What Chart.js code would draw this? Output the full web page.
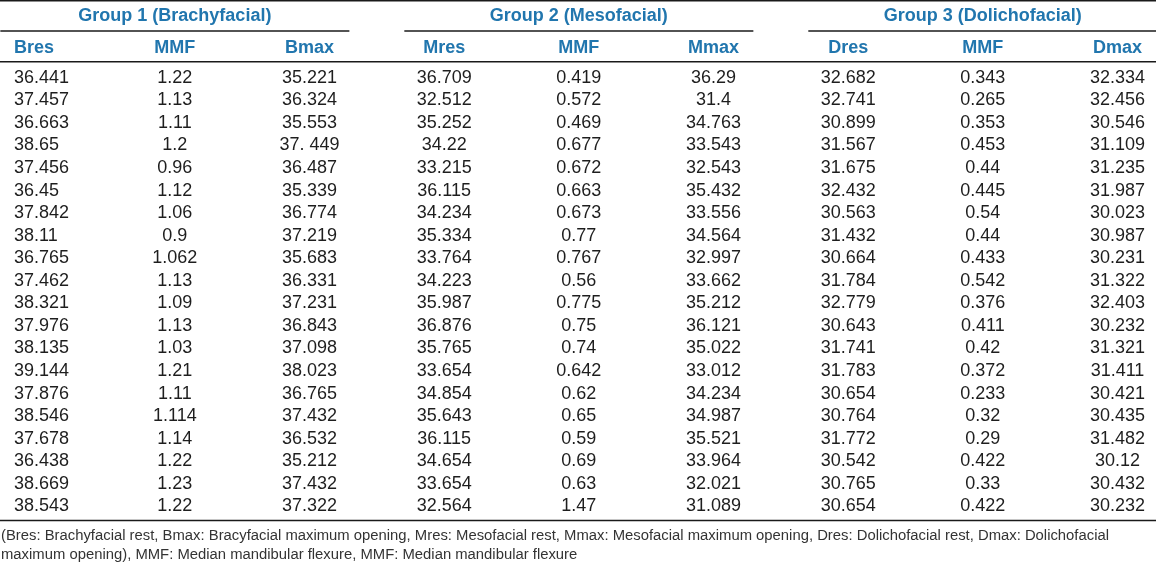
<!DOCTYPE html>
<html><head><meta charset="utf-8">
<script src="https://cdn.jsdelivr.net/npm/chart.js@4.4.1/dist/chart.umd.min.js"></script>
<style>html,body{margin:0;padding:0;background:#fff;overflow:hidden}#wrap{width:1156px;height:564px;position:relative}</style>
</head><body><div id="wrap"><canvas id="c" width="1156" height="564"></canvas></div>
<script>
// ---- table content ----
const groups = ['Group 1 (Brachyfacial)', 'Group 2 (Mesofacial)', 'Group 3 (Dolichofacial)'];
const columns = ['Bres', 'MMF', 'Bmax', 'Mres', 'MMF', 'Mmax', 'Dres', 'MMF', 'Dmax'];
const Bres  = ['36.441','37.457','36.663','38.65','37.456','36.45','37.842','38.11','36.765','37.462','38.321','37.976','38.135','39.144','37.876','38.546','37.678','36.438','38.669','38.543'];
const MMF1  = ['1.22','1.13','1.11','1.2','0.96','1.12','1.06','0.9','1.062','1.13','1.09','1.13','1.03','1.21','1.11','1.114','1.14','1.22','1.23','1.22'];
const Bmax  = ['35.221','36.324','35.553','37. 449','36.487','35.339','36.774','37.219','35.683','36.331','37.231','36.843','37.098','38.023','36.765','37.432','36.532','35.212','37.432','37.322'];
const Mres  = ['36.709','32.512','35.252','34.22','33.215','36.115','34.234','35.334','33.764','34.223','35.987','36.876','35.765','33.654','34.854','35.643','36.115','34.654','33.654','32.564'];
const MMF2  = ['0.419','0.572','0.469','0.677','0.672','0.663','0.673','0.77','0.767','0.56','0.775','0.75','0.74','0.642','0.62','0.65','0.59','0.69','0.63','1.47'];
const Mmax  = ['36.29','31.4','34.763','33.543','32.543','35.432','33.556','34.564','32.997','33.662','35.212','36.121','35.022','33.012','34.234','34.987','35.521','33.964','32.021','31.089'];
const Dres  = ['32.682','32.741','30.899','31.567','31.675','32.432','30.563','31.432','30.664','31.784','32.779','30.643','31.741','31.783','30.654','30.764','31.772','30.542','30.765','30.654'];
const MMF3  = ['0.343','0.265','0.353','0.453','0.44','0.445','0.54','0.44','0.433','0.542','0.376','0.411','0.42','0.372','0.233','0.32','0.29','0.422','0.33','0.422'];
const Dmax  = ['32.334','32.456','30.546','31.109','31.235','31.987','30.023','30.987','30.231','31.322','32.403','30.232','31.321','31.411','30.421','30.435','31.482','30.12','30.432','30.232'];
const footnote = [
  '(Bres: Brachyfacial rest, Bmax: Bracyfacial maximum opening, Mres: Mesofacial rest, Mmax: Mesofacial maximum opening, Dres: Dolichofacial rest, Dmax: Dolichofacial',
  'maximum opening), MMF: Median mandibular flexure, MMF: Median mandibular flexure'
];

const columnValues = [Bres, MMF1, Bmax, Mres, MMF2, Mmax, Dres, MMF3, Dmax];

// ---- build dataset (one point per cell) ----
const cells = [];
columnValues.forEach((arr, c) => arr.forEach((t, r) => cells.push({ x: c, y: r, t: t })));

// ---- layout in scale units ----
const L = {
  xMin: -0.2985, xMax: 8.286,
  yMin: -3.382, yMax: 21.618,
  leftAnchor: -0.195,     // left edge of first (left-aligned) column
  topRule: -3.36, groupRow: -2.717, groupRule: -2.008, headRow: -1.312, headRule: -0.647,
  bottomRule: 19.69, foot1: 20.354, foot2: 21.174,
  groupHalf: 1.296
};
const FONT = '"Liberation Sans", Arial, Helvetica, sans-serif';
const BLUE = '#2176ae';
const INK = '#1e1e1e';

const tablePlugin = {
  id: 'tableText',
  afterDatasetsDraw(chart) {
    const ctx = chart.ctx, xs = chart.scales.x, ys = chart.scales.y;
    const ca = chart.chartArea;
    const px = v => xs.getPixelForValue(v), py = v => ys.getPixelForValue(v);
    ctx.save();
    // rules
    ctx.strokeStyle = '#1a1a1a';
    ctx.lineWidth = 1.6;
    const hline = (y, x0, x1) => { ctx.beginPath(); ctx.moveTo(x0, y); ctx.lineTo(x1, y); ctx.stroke(); };
    hline(Math.max(py(L.topRule), 0.8), ca.left, ca.right);
    [1, 4, 7].forEach(c => hline(py(L.groupRule), Math.max(ca.left, px(c - L.groupHalf)), Math.min(ca.right, px(c + L.groupHalf))));
    hline(py(L.headRule), ca.left, ca.right);
    hline(py(L.bottomRule), ca.left, ca.right);

    const fs = 18;
    // group headers
    ctx.fillStyle = BLUE;
    ctx.font = 'bold ' + fs + 'px ' + FONT;
    ctx.textBaseline = 'alphabetic';
    ctx.textAlign = 'center';
    groups.forEach((g, i) => ctx.fillText(g, px(1 + 3 * i), py(L.groupRow) + 0.358 * fs));
    // column headers
    columns.forEach((h, c) => {
      if (c === 0) { ctx.textAlign = 'left'; ctx.fillText(h, px(L.leftAnchor), py(L.headRow) + 0.358 * fs); }
      else { ctx.textAlign = 'center'; ctx.fillText(h, px(c), py(L.headRow) + 0.358 * fs); }
    });
    // cells from the dataset elements
    ctx.fillStyle = INK;
    ctx.font = fs + 'px ' + FONT;
    const meta = chart.getDatasetMeta(0);
    meta.data.forEach((el, i) => {
      const d = chart.data.datasets[0].data[i];
      if (d.x === 0) { ctx.textAlign = 'left'; ctx.fillText(d.t, px(L.leftAnchor), el.y + 0.358 * fs); }
      else { ctx.textAlign = 'center'; ctx.fillText(d.t, el.x, el.y + 0.358 * fs); }
    });
    // footnote
    ctx.fillStyle = '#333';
    const ffs = 14;
    ctx.font = ffs + 'px "Liberation Sans Narrow", "Liberation Sans", Arial, sans-serif';
    ctx.textAlign = 'left';
    const w1 = ctx.measureText(footnote[0]).width;
    const sx = 1108 / w1;
    [L.foot1, L.foot2].forEach((yv, i) => {
      ctx.save();
      ctx.translate(ca.left + 1, py(yv) + 0.358 * ffs);
      ctx.scale(sx, 1);
      ctx.fillText(footnote[i], 0, 0);
      ctx.restore();
    });
    ctx.restore();
  }
};

new Chart(document.getElementById('c'), {
  type: 'scatter',
  data: { datasets: [{ data: cells, pointRadius: 0, pointHoverRadius: 0, showLine: false }] },
  options: {
    responsive: false, animation: false, events: [],
    layout: { padding: 0 },
    plugins: { legend: { display: false }, tooltip: { enabled: false } },
    scales: {
      x: { type: 'linear', min: L.xMin, max: L.xMax, display: false },
      y: { type: 'linear', reverse: true, min: L.yMin, max: L.yMax, display: false }
    }
  },
  plugins: [tablePlugin]
});
</script>
</body></html>
